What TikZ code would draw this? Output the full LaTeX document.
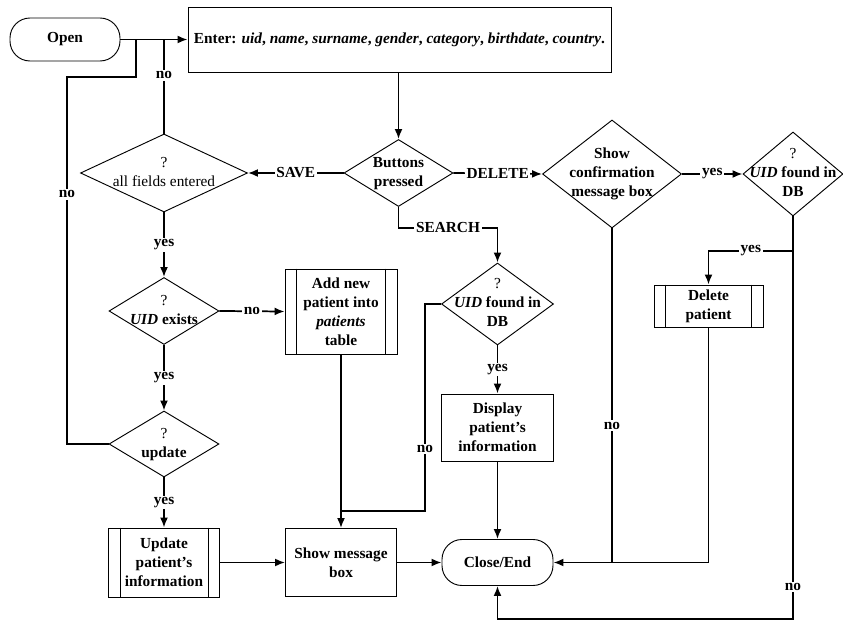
\documentclass[tikz,border=0pt]{standalone}
\usepackage{fontspec}
\setmainfont{Liberation Serif}
\usetikzlibrary{shapes.geometric,arrows.meta}

% centred multi-line text of zero width, so a diamond keeps its given size
\newcommand\dtxt[1]{\makebox[0pt]{\begin{tabular}{@{}c@{}}#1\end{tabular}}}

\begin{document}
\begin{tikzpicture}[x=0.75pt,y=-0.75pt,
  every node/.style={font=\fontsize{11.5}{14.3}\selectfont\bfseries},
  sz/.style 2 args={minimum width=#1*0.75pt, minimum height=#2*0.75pt},
  box/.style={draw, line width=0.7pt, inner sep=0pt, align=center},
  term/.style={box, rounded corners=15pt},
  dia/.style={draw, diamond, line width=0.7pt, inner sep=0pt},
  conn/.style={line width=1.3pt},
  arr/.style={conn, -{Latex[length=7.5pt,width=6pt]}},
  lbl/.style={fill=white, inner sep=1.2pt}
]
\useasboundingbox (0,0) rectangle (843,623);

% ---- nodes ----
\node[term, sz={110}{43}] (open) at (65,39.5) {Open};
\node[box, sz={423}{65}] (enter) at (399.5,39.5)
  {Enter: \textit{uid}, \textit{name}, \textit{surname}, \textit{gender}, \textit{category}, \textit{birthdate}, \textit{country}.};
\node[dia, sz={109}{67}] (buttons) at (398.5,173) {\dtxt{Buttons\\pressed}};
\node[dia, sz={167}{78}] (allf) at (164,173) {\dtxt{\mdseries ?\\\mdseries all fields entered}};
\node[dia, sz={139}{108}] (confirm) at (612,174) {\dtxt{Show\\confirmation\\message box}};
\node[dia, sz={100}{84}] (uidA) at (793,174) {\dtxt{\mdseries ?\\\textit{UID} found in\\DB}};
\node[dia, sz={112}{82}] (uidB) at (497.5,304) {\dtxt{\mdseries ?\\\textit{UID} found in\\DB}};
\node[dia, sz={110}{67}] (exists) at (164,311) {\dtxt{\mdseries ?\\\textit{UID} exists}};
\node[dia, sz={110}{66}] (update) at (164,444) {\dtxt{\mdseries ?\\update}};
\node[box, sz={112}{85}] (addnew) at (341,311.5) {Add new\\patient into\\\textit{patients}\\table};
\node[box, sz={109}{42}] (delete) at (708.5,306) {Delete\\patient};
\node[box, sz={112}{67}] (display) at (497.5,427.5) {Display\\patient’s\\information};
\node[box, sz={111}{69}] (updinfo) at (164,562.5) {Update\\patient’s\\information};
\node[box, sz={111}{68}] (showmsg) at (341,562.5) {Show message\\box};
\node[term, sz={111}{46}] (close) at (497.5,562.5) {Close/End};

% side bars of the predefined-process boxes
\foreach \n in {addnew,delete,updinfo}
  \draw[line width=0.7pt] ([xshift=9pt]\n.north west) -- ([xshift=9pt]\n.south west)
        ([xshift=-9pt]\n.north east) -- ([xshift=-9pt]\n.south east);

% ---- bend points ----
\coordinate (upd-l) at (67,444);
\coordinate (upd-t) at (67,77);
\coordinate (upd-r) at (136,77);
\coordinate (upd-j) at (136,39.5);
\coordinate (all-j) at (164,39.5);
\coordinate (sbend) at (497.5,228);
\coordinate (nb-a) at (425,304);
\coordinate (nb-b) at (425,511);
\coordinate (nb-c) at (341,511);
\coordinate (ybr) at (793,251);
\coordinate (bot) at (793,619);

% ---- connectors ----
\draw[arr] (open.east) -- (enter.west);
\draw[conn] (allf.north) -- node[lbl,pos=.62]{no} (all-j);
\draw[conn] (update.west) -- (upd-l) -- node[lbl,pos=.68]{no} (upd-t) -- (upd-r) -- (upd-j);
\draw[arr] (enter.south -| buttons.north) -- (buttons.north);
\draw[arr] (buttons.west) -- node[lbl]{SAVE} (allf.east);
\draw[arr] (buttons.east) -- node[lbl]{DELETE} (confirm.west);
\draw[arr] (buttons.south) |- node[lbl,pos=.75]{SEARCH} (sbend) -- (uidB.north);
\draw[arr] (allf.south) -- node[lbl]{yes} (exists.north);
\draw[arr] (exists.east) -- node[lbl]{no} (addnew.west);
\draw[arr] (exists.south) -- node[lbl]{yes} (update.north);
\draw[arr] (update.south) -- node[lbl]{yes} (updinfo.north);
\draw[arr] (updinfo.east) -- (showmsg.west);
\draw[arr] (addnew.south) -- (showmsg.north);
\draw[conn] (uidB.west) -- (nb-a) -- node[lbl,pos=.7]{no} (nb-b) -- (nb-c);
\draw[arr] (uidB.south) -- node[lbl]{yes} (display.north);
\draw[arr] (display.south) -- (close.north);
\draw[arr] (showmsg.east) -- (close.west);
\draw[arr] (confirm.east) -- node[lbl]{yes} (uidA.west);
\draw[conn] (confirm.south) -- node[lbl,pos=.59]{no} (confirm.south |- close.east);
\draw[arr] (delete.south) |- (close.east);
\draw[arr] (ybr) -| node[lbl,pos=.25]{yes} (delete.north);
\draw[arr] (uidA.south) -- node[lbl,pos=.92]{no} (bot) -| (close.south);
\end{tikzpicture}
\end{document}
